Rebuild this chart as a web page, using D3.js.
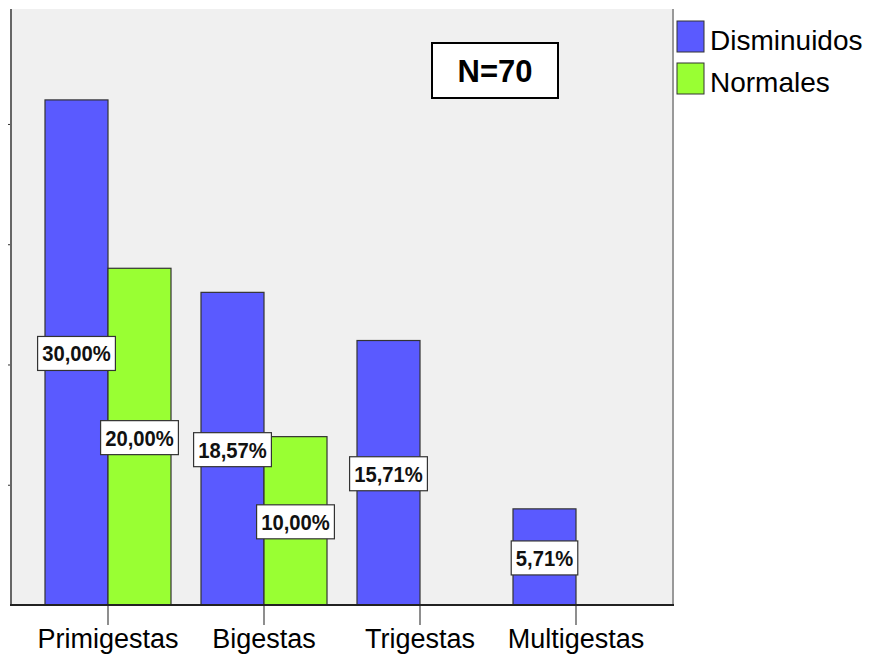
<!DOCTYPE html>
<html>
<head>
<meta charset="utf-8">
<script src="https://cdn.jsdelivr.net/npm/d3@7"></script>
<style>
  html, body { margin: 0; padding: 0; background: #ffffff; }
  svg { display: block; font-family: "Liberation Sans", Arial, sans-serif; }
</style>
</head>
<body>
<svg id="chart" width="876" height="662"></svg>
<script>
// Gestational groups and percentage of patients per series (N = 70)
const categories = ["Primigestas", "Bigestas", "Trigestas", "Multigestas"];
const seriesNames = ["Disminuidos", "Normales"];
const disminuidos = [30.00, 18.57, 15.71, 5.71];
const normales = [20.00, 10.00, 0, 0];
const totalN = 70;
// Left axis ticks are placed at whole counts of patients
const tickCounts = [5, 10, 15, 20];

const colors = { Disminuidos: "#5a5aff", Normales: "#99ff33" };
const seriesValues = { Disminuidos: disminuidos, Normales: normales };

const svg = d3.select("#chart");
const plot = { left: 11, right: 673, top: 9, bottom: 605 };

// Percent scale; upper end leaves headroom above the tallest bar
const y = d3.scaleLinear()
  .domain([0, 35.4])
  .range([plot.bottom, plot.top]);

const x0 = d3.scaleBand()
  .domain(categories)
  .range([30, 654])
  .paddingInner(0)
  .paddingOuter(0);

const x1 = d3.scaleBand()
  .domain(seriesNames)
  .range([0, x0.bandwidth()])
  .paddingInner(0)
  .paddingOuter(0.238);

// Plot background
svg.append("rect")
  .attr("x", plot.left).attr("y", plot.top)
  .attr("width", plot.right - plot.left)
  .attr("height", plot.bottom - plot.top)
  .attr("fill", "#f0f0f0");

// Right frame edge
svg.append("line")
  .attr("x1", plot.right).attr("x2", plot.right)
  .attr("y1", plot.top).attr("y2", plot.bottom)
  .attr("stroke", "#999").attr("stroke-width", 2);

// Bars
const rows = [];
categories.forEach((c, i) => {
  seriesNames.forEach(s => {
    const v = seriesValues[s][i];
    if (v > 0) rows.push({ cat: c, series: s, value: v });
  });
});

svg.append("g").selectAll("rect")
  .data(rows)
  .join("rect")
  .attr("x", d => x0(d.cat) + x1(d.series))
  .attr("y", d => y(d.value))
  .attr("width", x1.bandwidth())
  .attr("height", d => y(0) - y(d.value))
  .attr("fill", d => colors[d.series])
  .attr("stroke", "#333")
  .attr("stroke-width", 1.2);

// Left axis
const yAxis = d3.axisLeft(y)
  .tickValues(tickCounts.map(c => c / totalN * 100))
  .tickSize(3)
  .tickFormat("");
const gy = svg.append("g")
  .attr("transform", `translate(${plot.left},0)`)
  .call(yAxis);
gy.select(".domain").remove();
gy.selectAll(".tick line").attr("stroke", "#333");
svg.append("line")
  .attr("x1", plot.left).attr("x2", plot.left)
  .attr("y1", plot.top).attr("y2", plot.bottom)
  .attr("stroke", "#666").attr("stroke-width", 2);

// Bottom axis
const xAxis = d3.axisBottom(x0).tickSize(20).tickPadding(4);
const gx = svg.append("g")
  .attr("transform", `translate(0,${plot.bottom})`)
  .call(xAxis);
gx.select(".domain").remove();
gx.selectAll(".tick line").attr("stroke", "#444").attr("stroke-width", 1.2);
gx.selectAll(".tick text")
  .attr("font-size", 27)
  .attr("fill", "#000")
  .attr("font-family", "'Liberation Sans', Arial, sans-serif")
  .attr("dy", "0.7em");
svg.append("line")
  .attr("x1", plot.left - 1).attr("x2", plot.right + 1)
  .attr("y1", plot.bottom).attr("y2", plot.bottom)
  .attr("stroke", "#222").attr("stroke-width", 2);

// Value labels in the middle of each bar (slightly condensed bold type)
const fmt = v => v.toFixed(2).replace(".", ",") + "%";
const labels = svg.append("g").selectAll("g")
  .data(rows)
  .join("g")
  .attr("transform", d => {
    const cx = x0(d.cat) + x1(d.series) + x1.bandwidth() / 2;
    const cy = (y(d.value) + y(0)) / 2 + 1;
    return `translate(${cx},${cy})`;
  });

labels.append("text")
  .attr("text-anchor", "middle")
  .attr("dy", "0.36em")
  .attr("font-size", 22)
  .attr("font-weight", "bold")
  .attr("fill", "#111")
  .attr("transform", "scale(0.92,1)")
  .text(d => fmt(d.value));

labels.each(function() {
  const g = d3.select(this);
  const bb = g.select("text").node().getBBox();
  const w = bb.width * 0.92;
  g.insert("rect", "text")
    .attr("x", -w / 2 - 4.5)
    .attr("y", -17)
    .attr("width", w + 9)
    .attr("height", 34)
    .attr("fill", "#fff")
    .attr("stroke", "#333")
    .attr("stroke-width", 1.2);
});

// Sample size box
svg.append("rect")
  .attr("x", 432).attr("y", 43)
  .attr("width", 126).attr("height", 55)
  .attr("fill", "#fff")
  .attr("stroke", "#000").attr("stroke-width", 2);
svg.append("text")
  .attr("x", 495).attr("y", 71)
  .attr("dy", "0.36em")
  .attr("text-anchor", "middle")
  .attr("font-size", 31)
  .attr("font-weight", "bold")
  .text("N=" + totalN);

// Legend
const legend = svg.append("g").selectAll("g")
  .data(seriesNames)
  .join("g")
  .attr("transform", (d, i) => `translate(677,${21 + i * 42})`);
legend.append("rect")
  .attr("width", 27).attr("height", 31)
  .attr("fill", d => colors[d])
  .attr("stroke", "#333").attr("stroke-width", 1);
legend.append("text")
  .attr("x", 33).attr("y", 29)
  .attr("font-size", 28)
  .attr("fill", "#000")
  .text(d => d);
</script>
</body>
</html>
